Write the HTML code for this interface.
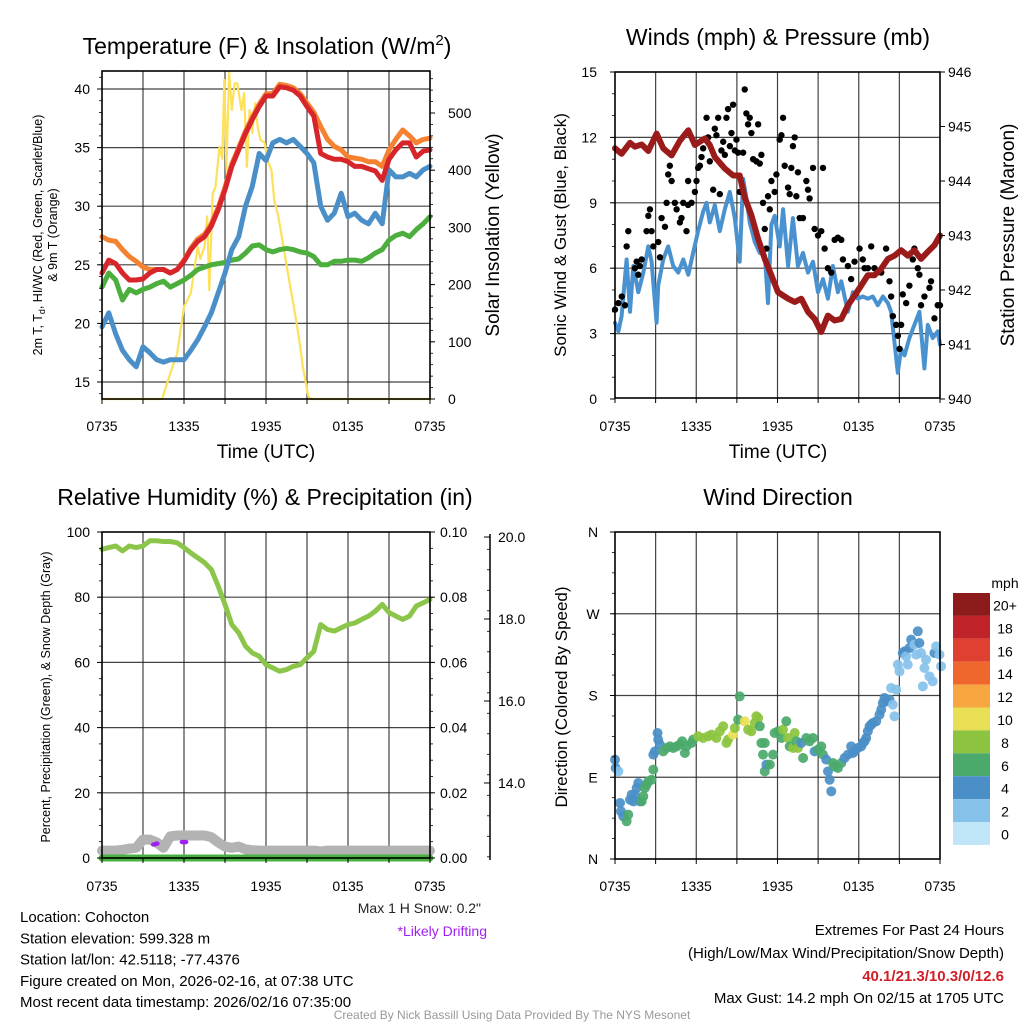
<!DOCTYPE html>
<html><head><meta charset="utf-8"><style>
body{margin:0;background:#fff;}
svg{display:block;font-family:"Liberation Sans",sans-serif;}
</style></head><body>
<svg id="c" width="1024" height="1024" viewBox="0 0 1024 1024"></svg>
<script>
// ---------- DATA ----------
const timeTicks=["0735","1335","1935","0135","0735"];
const hh=[0,0.5,1,1.5,2,2.5,3,3.5,4,4.5,5,5.5,6,6.5,7,7.5,8,8.5,9,9.5,10,10.5,11,11.5,12,12.5,13,13.5,14,14.5,15,15.5,16,16.5,17,17.5,18,18.5,19,19.5,20,20.5,21,21.5,22,22.5,23,23.5,24];
const tempRed=[24.3,25.4,25.1,24.3,23.7,23.7,23.8,24.3,24.6,24.6,24.3,24.6,25.3,26.3,27,27.4,28.3,29.7,31.4,33.4,34.8,36.2,37.4,38.5,39.4,39.4,40.2,40.1,39.9,39.4,38.5,37.7,34.5,34.2,34,34,33.8,33.4,33.4,33.2,33,32.2,34,34.8,35.4,35.4,34.2,34.7,34.8];
const tempOrange=[27.4,27.1,27,26.3,25.7,25.3,24.8,24.6,24.6,24.6,24.3,24.6,25.4,26.4,27.2,27.6,28.5,29.9,31.6,33.6,35,36.4,37.6,38.7,39.6,39.6,40.4,40.3,40.1,39.6,38.8,38,36.8,35.7,35.1,34.8,34.2,34.1,34,33.8,33.8,33.4,34.8,35.7,36.5,36,35.4,35.7,35.8];
const tempGreen=[23.1,24.3,23.7,22,22.9,22.6,22.9,23.1,23.4,23.6,23.1,23.4,23.7,24.1,24.6,24.8,25,25.1,25.2,25.4,25.5,26,26.6,26.7,26.3,26.1,26.3,26.4,26.3,26.1,26,25.7,25,25,25.3,25.3,25.4,25.4,25.3,25.6,26,26.3,27.1,27.5,27.7,27.4,28,28.5,29.1];
const tempBlue=[19.7,20.9,19.1,17.7,16.9,16.3,18,17.5,16.9,16.7,16.9,16.9,16.9,17.7,18.6,19.7,20.9,22.6,24.3,26.3,27.4,30,31.7,34.5,33.9,35.4,35.7,35.4,35.7,35.1,34.5,33.7,30,28.8,29.4,31.1,29.1,29.4,28.8,28.5,29.4,28.5,33.1,32.5,32.5,32.8,32.5,33.1,33.4];
const solarT=[0,4.4,5.0,5.5,6.0,6.5,7.0,7.2,7.5,7.7,7.85,8.1,8.3,8.6,8.8,8.95,9.1,9.3,9.5,9.7,9.9,10.2,10.4,10.6,10.8,11.0,11.2,11.4,11.6,11.9,12.1,12.4,12.6,12.9,13.2,13.6,14.0,14.4,14.7,15.1,15.3,24];
const solarV=[0,0,45,80,161,185,266,245,266,319,190,360,370,441,420,558,400,572,505,552,552,505,535,406,505,465,517,475,453,448,418,400,348,319,278,220,167,109,56,4,0,0];
const windT=[0,0.25,0.49,0.86,1.11,1.35,1.72,2.09,2.46,2.7,3.07,3.19,3.56,3.93,4.3,4.67,5.04,5.41,5.77,6.14,6.51,6.76,7.0,7.37,7.74,8.11,8.48,8.85,9.21,9.46,9.71,9.95,10.32,10.69,11.06,11.3,11.55,11.79,12.16,12.41,12.78,13.14,13.51,13.88,14.25,14.62,14.99,15.36,15.72,16.09,16.46,16.71,17.2,17.57,17.94,18.3,18.67,19.04,19.41,19.78,20.15,20.39,20.64,20.88,21.13,21.38,21.74,22.11,22.48,22.85,23.1,23.46,23.83,24];
const windV=[3.5,3.1,3.8,6.4,4.0,6.1,4.9,5.8,7.0,6.3,3.5,5.2,6.4,7.0,6.1,5.8,6.4,5.7,6.7,7.7,8.6,9.0,8.1,8.9,7.7,8.7,9.5,8.3,6.3,10.1,9.2,8.1,7.2,6.7,6.6,4.4,8.0,8.4,7.0,8.7,6.1,8.3,6.1,6.7,5.8,6.3,4.9,5.5,4.6,6.1,4.9,5.4,4.0,4.9,4.6,4.7,4.6,4.7,4.3,4.7,4.4,4.0,2.6,1.2,2.3,2.0,2.8,3.4,4.0,1.4,3.4,2.8,3.1,2.5];
const gustT=[0,0.25,0.5,0.74,0.86,0.98,1.47,1.6,1.72,1.84,1.97,2.33,2.46,2.58,2.7,2.83,3.19,3.32,3.44,3.69,3.81,3.93,4.05,4.18,4.42,4.55,4.79,4.91,5.04,5.28,5.4,5.4,5.65,5.9,6.02,6.14,6.27,6.39,6.51,6.76,6.88,7.0,7.25,7.37,7.49,7.62,7.74,7.86,7.99,8.11,8.23,8.35,8.48,8.6,8.72,8.85,8.97,9.09,9.21,9.46,9.58,9.7,9.83,9.95,10.07,10.2,10.44,10.57,10.69,10.81,10.93,11.06,11.18,11.3,11.43,11.55,11.79,11.92,12.16,12.29,12.41,12.53,12.78,12.9,13.02,13.14,13.27,13.39,13.51,13.64,13.88,14.13,14.25,14.37,14.62,14.74,14.99,15.23,15.36,15.48,15.72,15.97,16.22,16.46,16.71,16.83,17.2,17.44,17.69,18.06,18.3,18.43,18.67,18.92,19.16,19.66,20.02,20.27,20.39,20.52,20.76,20.89,21.01,21.13,21.25,21.5,21.74,21.99,22.11,22.36,22.48,22.6,22.85,23.22,23.34,23.59,23.83,24.0];
const gustV=[4.1,4.4,4.7,4.3,7.0,7.7,6.0,6.3,5.7,6.1,6.4,7.7,8.4,8.7,7.7,7.0,7.2,6.5,8.3,7.9,9.0,10.3,10.7,10.0,9.0,8.7,8.1,8.3,9.0,7.7,8.9,10.0,9.0,9.5,10.0,10.6,10.7,11.1,11.5,12.9,12.0,10.9,9.6,12.4,12.1,12.9,9.4,11.4,11.8,11.2,12.9,13.3,11.6,12.2,13.5,11.4,11.9,11.3,9.5,11.3,14.2,13.1,12.6,12.9,12.2,11.0,10.9,12.6,10.8,11.2,9.0,7.8,6.9,9.3,8.7,10.0,9.5,10.3,11.9,12.1,12.9,10.7,9.7,9.4,10.6,11.6,12.0,9.3,10.4,8.3,8.3,10.0,9.6,9.2,10.6,7.8,7.5,7.7,10.6,6.9,6.0,5.8,7.3,7.4,7.3,6.4,6.1,5.5,6.3,6.9,6.4,6.0,6.0,7.0,6.0,5.8,6.9,5.4,4.7,3.8,3.4,2.9,2.3,3.4,4.8,4.4,5.2,6.4,6.9,6.0,5.7,4.3,4.7,5.1,5.4,3.7,4.3,4.3];
const presT=[0,0.49,1.11,1.47,1.97,2.46,3.07,3.56,4.18,4.79,5.41,5.9,6.63,7.0,7.37,8.11,8.72,9.21,9.58,10.07,10.57,11.06,11.55,12.04,12.78,13.27,13.76,14.25,14.74,15.23,15.72,16.22,16.71,17.2,17.69,18.18,18.67,19.16,19.66,20.15,20.64,21.13,21.62,22.11,22.6,23.1,23.59,24];
const presV=[944.6,944.5,944.7,944.63,944.67,944.55,944.87,944.6,944.47,944.74,944.93,944.66,944.78,944.66,944.44,944.23,944.1,944.1,943.7,943.37,942.94,942.57,942.27,941.96,941.84,941.78,941.84,941.6,941.47,941.23,941.53,941.44,941.47,941.72,941.9,942.08,942.27,942.27,942.39,942.57,942.63,942.73,942.63,942.73,942.57,942.7,942.82,943.0];
const rhV=[94.7,95.2,95.7,94.2,95.7,95.2,95.7,97.3,97.3,97.1,97.1,96.7,95.2,93.6,92.1,90.6,88.5,83.4,77.8,71.6,69.1,65,62.9,61.9,59.3,58.3,57.3,57.8,58.8,59.3,61.4,63.4,71.6,70.1,69.6,70.6,71.6,72.1,73.2,74.2,75.7,77.8,75.3,74.2,73.2,74.2,77.3,78.3,79.3];
const snowV=[12.35,12.35,12.35,12.37,12.4,12.42,12.62,12.62,12.55,12.42,12.7,12.72,12.72,12.72,12.72,12.72,12.68,12.55,12.45,12.42,12.45,12.38,12.36,12.35,12.35,12.35,12.35,12.35,12.35,12.35,12.35,12.35,12.33,12.35,12.35,12.35,12.35,12.35,12.35,12.35,12.35,12.35,12.35,12.35,12.35,12.35,12.35,12.35,12.35];
const driftT=[3.8,4.0,5.9,6.1];
const driftV=[12.5,12.52,12.56,12.56];
const precipV=[0,0];
const dirT=[0,0.05,0.25,0.37,0.44,0.61,0.86,0.98,1.11,1.23,1.35,1.47,1.6,1.72,1.84,1.97,2.09,2.21,2.33,2.46,2.7,2.83,2.83,2.95,3.14,3.19,3.32,3.56,3.81,4.05,4.3,4.55,4.79,4.96,5.16,5.28,5.65,5.77,6.14,6.51,6.88,7.13,7.49,7.74,7.99,8.23,8.35,8.72,8.85,9.09,9.21,9.58,9.83,10.07,10.32,10.44,10.57,10.69,10.81,11.06,10.93,11.06,11.18,11.43,11.67,11.79,12.04,12.29,12.41,12.65,12.78,12.9,13.15,13.27,13.39,13.51,13.76,13.89,14.13,14.37,14.62,14.74,14.99,15.23,15.36,15.6,15.73,15.85,15.97,16.09,16.22,16.46,16.71,16.95,17.2,17.44,17.57,17.69,17.94,18.18,18.3,18.43,18.55,18.67,18.8,18.92,19.04,19.29,19.53,19.66,19.78,19.9,20.02,20.27,20.39,20.52,20.64,20.76,20.89,21.01,21.25,21.38,21.5,21.62,21.74,21.87,22.11,22.24,22.36,22.48,22.6,22.73,22.85,22.97,23.22,23.46,23.59,23.71,23.96,24.08];
const dirV=[109.4,100.2,96.5,61.7,52.5,47,41.5,48.8,65.3,70.8,63.5,70.8,78.2,83.7,63.5,63.5,69,78.2,81.8,85.5,87.3,98.4,114.9,118.5,138.7,131.4,125.9,118.5,122.2,124,122.2,124,125.9,129.6,116.7,124,127.7,131.4,135.1,133.2,135.1,136.9,133.2,140.6,146.1,127.7,131.4,136.9,144.2,153.4,179.1,151.6,142.4,140.6,149.7,157.1,155.2,146.1,127.7,127.7,114.9,96.5,103.9,103.9,114.9,138.7,140.6,133.2,142.4,151.6,133.2,124,122.2,138.7,129.6,122.2,127.7,111.2,133.2,129.6,133.2,118.5,120.4,124,114.9,109.4,96.5,87.3,74.5,105.7,102,100.2,105.7,111.2,114.9,124,116.7,118.5,122.2,124,127.7,129.6,133.2,140.6,146.1,147.9,149.7,151.6,158.9,164.4,171.8,177.3,173.6,175.4,188.3,169.9,157.1,186.4,214,206.6,226.8,228.6,223.1,214,232.3,241.5,236,225,250.7,237.8,226.8,190.1,210.3,219.5,201.1,195.6,226.8,234.1,225,212.1];
const dirSpd=[3.5,3.5,2.5,3.5,3.5,4.5,5.5,5.5,4,4,4,4,4,4,4,5.5,5.5,5.5,5.5,5.5,5.5,5.5,4,4,4,4,4,5.5,5.5,5.5,5.5,5.5,5.5,5.5,5.5,5.5,6.5,6.5,7.5,7.5,7.5,7.5,7.5,7.5,7.5,7.5,7.5,9.5,7.5,5.5,6.5,9.5,7.5,7.5,7.5,7.5,7.5,5.5,5.5,5.5,5.5,5.5,4,5.5,5.5,5.5,5.5,6.5,7.5,5.5,7.5,5.5,7.5,7.5,5.5,7.5,4,5.5,5.5,5.5,5.5,4,5.5,5.5,5.5,4,4,4,4,5.5,5.5,5.5,5.5,4,4,4,4,4,4,4,4,4,4,4,4,4,4,4,4,4,4,4,4,4,2.5,2.5,2.5,1,2.5,2.5,3.5,3.5,2.5,2.5,3.5,3.5,2.5,2.5,3.5,3.5,2.5,2.5,2.5,2.5,2.5,2.5,3.5,2.5,2.5,2.5];
const cbLabels=["20+","18","16","14","12","10","8","6","4","2","0"];
const cbColors=["#8e1b1b","#c1232b","#e0402f","#f0672e","#f7a641","#e9df55","#8cc43f","#4aa96b","#4a8fc7","#86c1ea","#bfe5f7"];

// ---------- DRAWING ----------
const NS="http://www.w3.org/2000/svg";
const svg=document.getElementById('c');
function mk(tag,attrs,parent){const e=document.createElementNS(NS,tag);for(const k in attrs)e.setAttribute(k,attrs[k]);(parent||svg).appendChild(e);return e;}
function txt(s,x,y,size,anchor,parent,extra){const t=mk('text',Object.assign({x:x,y:y,'font-size':size,'text-anchor':anchor||'middle',fill:'#000'},extra||{}),parent);t.textContent=s;return t;}
function lin(d0,d1,r0,r1){return v=>r0+(v-d0)/(d1-d0)*(r1-r0);}

function frame(g,L,T,R,B,nH,hy){
  for(let i=1;i<8;i++){const x=L+i*(R-L)/8;const l=mk('line',{x1:x,y1:T,x2:x,y2:B,stroke:'#222','stroke-width':1.2,opacity:0.85},g);}
  hy.forEach(y=>{const l=mk('line',{x1:L,y1:y,x2:R,y2:y,stroke:'#222','stroke-width':1.2,opacity:0.85},g);});
}
function border(g,L,T,R,B){const r=mk('rect',{x:L,y:T,width:R-L,height:B-T,fill:'none',stroke:'#000','stroke-width':1.6},g);}
function xAxis(g,L,R,B,ty){
  for(let i=0;i<=8;i++){const x=L+i*(R-L)/8;mk('line',{x1:x,y1:B,x2:x,y2:B+5,stroke:'#000','stroke-width':1},g);}
  timeTicks.forEach((s,i)=>{const t=txt(s,L+i*(R-L)/4,ty,14,'middle',g);});
}
function path(g,xs,ys,sx,sy,color,w,name){
  let d='';for(let i=0;i<xs.length;i++){d+=(i?'L':'M')+sx(xs[i]).toFixed(1)+','+sy(ys[i]).toFixed(1);}
  const p=mk('path',{d:d,fill:'none',stroke:color,'stroke-width':w,'stroke-linejoin':'round','stroke-linecap':'round'},g);
  return p;
}

// ===== Panel 1 =====
(function(){
  const g=mk('g',{});
  const L=102,T=71,R=430,B=399;
  const sx=lin(0,24,L,R), sy=lin(15,40,382,89), sy2=lin(0,500,399,113);
  frame(g,L,T,R,B,0,[15,20,25,30,35,40].map(sy));
  path(g,solarT,solarV,sx,sy2,'#fde15a',2.2,'solar-insolation-line');
  path(g,hh,tempOrange,sx,sy,'#f58231',5,'temp-9m-line');
  path(g,hh,tempGreen,sx,sy,'#4cae3c',5,'dewpoint-line');
  path(g,hh,tempBlue,sx,sy,'#4a8fc8',5,'windchill-line');
  path(g,hh,tempRed,sx,sy,'#d6262b',5,'temp-2m-line');
  border(g,L,T,R,B);
  [15,20,25,30,35,40].forEach(v=>{mk('line',{x1:L-5,y1:sy(v),x2:L,y2:sy(v),stroke:'#000'},g);const t=txt(String(v),L-12,sy(v)+5,14,'end',g);});
  for(let v=14;v<=41;v++){mk('line',{x1:L-3,y1:sy(v),x2:L,y2:sy(v),stroke:'#000','stroke-width':0.8},g);}
  [0,100,200,300,400,500].forEach(v=>{mk('line',{x1:R,y1:sy2(v),x2:R+5,y2:sy2(v),stroke:'#000'},g);const t=txt(String(v),R+18,sy2(v)+5,14,'start',g);});
  for(let v=0;v<=560;v+=20){mk('line',{x1:R,y1:sy2(v),x2:R+3,y2:sy2(v),stroke:'#000','stroke-width':0.8},g);}
  xAxis(g,L,R,B,431);
  let t=txt('Time (UTC)',266,458,19,'middle',g);
  t=mk('text',{x:267,y:54,'font-size':23,'text-anchor':'middle'},g);t.innerHTML='Temperature (F) &amp; Insolation (W/m<tspan dy="-9" font-size="15">2</tspan><tspan dy="9">)</tspan>';
  
  t=mk('text',{transform:'translate(42,235) rotate(-90)','font-size':12.5,'text-anchor':'middle'},g);t.innerHTML='2m T, T<tspan dy="3" font-size="9">d</tspan><tspan dy="-3">, HI/WC (Red, Green, Scarlet/Blue)</tspan>';
  
  t=txt('& 9m T (Orange)',0,0,12.5,'middle',g,{transform:'translate(57,235) rotate(-90)'});
  t=txt('Solar Insolation (Yellow)',0,0,19,'middle',g,{transform:'translate(499,235) rotate(-90)'});
})();

// ===== Panel 2 =====
(function(){
  const g=mk('g',{});
  const L=615,T=72,R=940,B=398;
  const sx=lin(0,24,L,R), sy=lin(0,15,399,72), sy2=lin(940,946,399,72);
  frame(g,L,T,R,B,0,[3,6,9,12].map(sy));
  path(g,windT,windV,sx,sy,'#4a92cf',4,'sonic-wind-line');
  gustT.forEach((h,i)=>{const c=mk('circle',{cx:sx(h),cy:sy(gustV[i]),r:3.2,fill:'#000'},g);});
  path(g,presT,presV,sx,sy2,'#9b1b1b',6,'pressure-line');
  border(g,L,T,R,B);
  [0,3,6,9,12,15].forEach(v=>{mk('line',{x1:L-5,y1:sy(v),x2:L,y2:sy(v),stroke:'#000'},g);const t=txt(String(v),L-18,sy(v)+5,14,'end',g);});
  for(let v=0;v<=15;v+=1){mk('line',{x1:L-3,y1:sy(v),x2:L,y2:sy(v),stroke:'#000','stroke-width':0.8},g);}
  [940,941,942,943,944,945,946].forEach(v=>{mk('line',{x1:R,y1:sy2(v),x2:R+5,y2:sy2(v),stroke:'#000'},g);const t=txt(String(v),R+8,sy2(v)+5,14,'start',g);});
  xAxis(g,L,R,B,431);
  let t=txt('Time (UTC)',778,458,19,'middle',g);
  t=txt('Winds (mph) & Pressure (mb)',778,45,23,'middle',g);
  t=txt('Sonic Wind & Gust (Blue, Black)',0,0,17,'middle',g,{transform:'translate(566,235) rotate(-90)'});
  t=txt('Station Pressure (Maroon)',0,0,19,'middle',g,{transform:'translate(1014,235) rotate(-90)'});
})();

// ===== Panel 3 =====
(function(){
  const g=mk('g',{});
  const L=102,T=532,R=430,B=858;
  const sx=lin(0,24,L,R), sy=lin(0,100,858,532), sy2=lin(0,0.1,858,532), sy3=lin(14,20,783,537);
  frame(g,L,T,R,B,0,[20,40,60,80].map(sy));
  path(g,hh,snowV,sx,sy3,'#b3b3b3',10,'snow-depth-line');
  driftT.forEach((h,i)=>{const c=mk('ellipse',{cx:sx(h),cy:sy3(driftV[i]),rx:3,ry:2.3,fill:'#a020f0'},g);});
  path(g,[0,24],precipV,sx,sy2,'#47b040',7,'precipitation-line');
  path(g,hh,rhV,sx,sy,'#8bc64a',5,'relative-humidity-line');
  border(g,L,T,R,B);
  [0,20,40,60,80,100].forEach(v=>{mk('line',{x1:L-5,y1:sy(v),x2:L,y2:sy(v),stroke:'#000'},g);const t=txt(String(v),L-12,sy(v)+5,14,'end',g);});
  for(let v=0;v<=100;v+=5){mk('line',{x1:L-3,y1:sy(v),x2:L,y2:sy(v),stroke:'#000','stroke-width':0.8},g);}
  ['0.00','0.02','0.04','0.06','0.08','0.10'].forEach(s=>{const v=parseFloat(s);mk('line',{x1:R,y1:sy2(v),x2:R+5,y2:sy2(v),stroke:'#000'},g);const t=txt(s,R+10,sy2(v)+5,14,'start',g);});
  for(let v=0;v<=0.1001;v+=0.005){mk('line',{x1:R,y1:sy2(v),x2:R+3,y2:sy2(v),stroke:'#000','stroke-width':0.8},g);}
  mk('line',{x1:490,y1:534,x2:490,y2:860,stroke:'#000','stroke-width':1.5},g);
  ['14.0','16.0','18.0','20.0'].forEach(s=>{const v=parseFloat(s);mk('line',{x1:484,y1:sy3(v),x2:490,y2:sy3(v),stroke:'#000'},g);const t=txt(s,498,sy3(v)+5,14,'start',g);});
  for(let v=12.2;v<=20.01;v+=0.5){mk('line',{x1:487,y1:sy3(v),x2:490,y2:sy3(v),stroke:'#000','stroke-width':0.8},g);}
  xAxis(g,L,R,B,891);
  let t=txt('Relative Humidity (%) & Precipitation (in)',265,505,23,'middle',g);
  t=txt('Percent, Precipitation (Green), & Snow Depth (Gray)',0,0,12.5,'middle',g,{transform:'translate(50,697) rotate(-90)'});
  t=txt('Max 1 H Snow: 0.2"',481,913,14,'end',g,{fill:'#222'});
  t=txt('*Likely Drifting',487,936,14,'end',g,{fill:'#a020f0'});
})();

// ===== Panel 4 =====
(function(){
  const g=mk('g',{});
  const L=615,T=532,R=940,B=859;
  const sx=lin(0,24,L,R), sy=lin(0,360,859,532);
  frame(g,L,T,R,B,0,[90,180,270].map(sy));
  function col(s){let k=Math.round(s/2);if(k>10)k=10;return cbColors[10-k];}
  dirT.forEach((h,i)=>{const c=mk('circle',{cx:sx(h),cy:sy(dirV[i]),r:5,fill:col(dirSpd[i]),opacity:0.92},g);});
  border(g,L,T,R,B);
  ['N','E','S','W','N'].forEach((s,i)=>{const y=sy(i*90);mk('line',{x1:L-5,y1:y,x2:L,y2:y,stroke:'#000'},g);const t=txt(s,L-22,y+5,14,'middle',g);});
  for(let v=0;v<=360;v+=22.5){mk('line',{x1:L-3,y1:sy(v),x2:L,y2:sy(v),stroke:'#000','stroke-width':0.8},g);}
  xAxis(g,L,R,B,891);
  let t=txt('Wind Direction',778,505,23,'middle',g);
  t=txt('Direction (Colored By Speed)',0,0,17,'middle',g,{transform:'translate(567,697) rotate(-90)'});
  const cb=mk('g',{},g);
  const cy0=593,ch=22.9;
  cbColors.forEach((c,i)=>{const r=mk('rect',{x:953,y:cy0+i*ch,width:37,height:ch,fill:c},cb);});
  cbLabels.forEach((s,i)=>{const t=txt(s,1005,cy0+i*ch+ch/2+6,14,'middle',cb);});
  t=txt('mph',1005,588,14,'middle',cb);
})();

// ===== Footer text =====
(function(){
  const g=mk('g',{});
  const lines=['Location: Cohocton','Station elevation: 599.328 m','Station lat/lon: 42.5118; -77.4376','Figure created on Mon, 2026-02-16, at 07:38 UTC','Most recent data timestamp: 2026/02/16 07:35:00'];
  lines.forEach((s,i)=>{const t=txt(s,20,922+i*21.3,15,'start',g);});
  const g2=mk('g',{});
  let t=txt('Extremes For Past 24 Hours',1004,935,15,'end',g2);
  t=txt('(High/Low/Max Wind/Precipitation/Snow Depth)',1004,958,15,'end',g2);
  t=txt('40.1/21.3/10.3/0/12.6',1004,981,15,'end',g2,{fill:'#d0202a','font-weight':'bold'});
  t=txt('Max Gust: 14.2 mph On 02/15 at 1705 UTC',1004,1003,15,'end',g2);
  t=txt('Created By Nick Bassill Using Data Provided By The NYS Mesonet',512,1019,12,'middle',svg,{fill:'#999'});
})();
</script>
</body></html>
